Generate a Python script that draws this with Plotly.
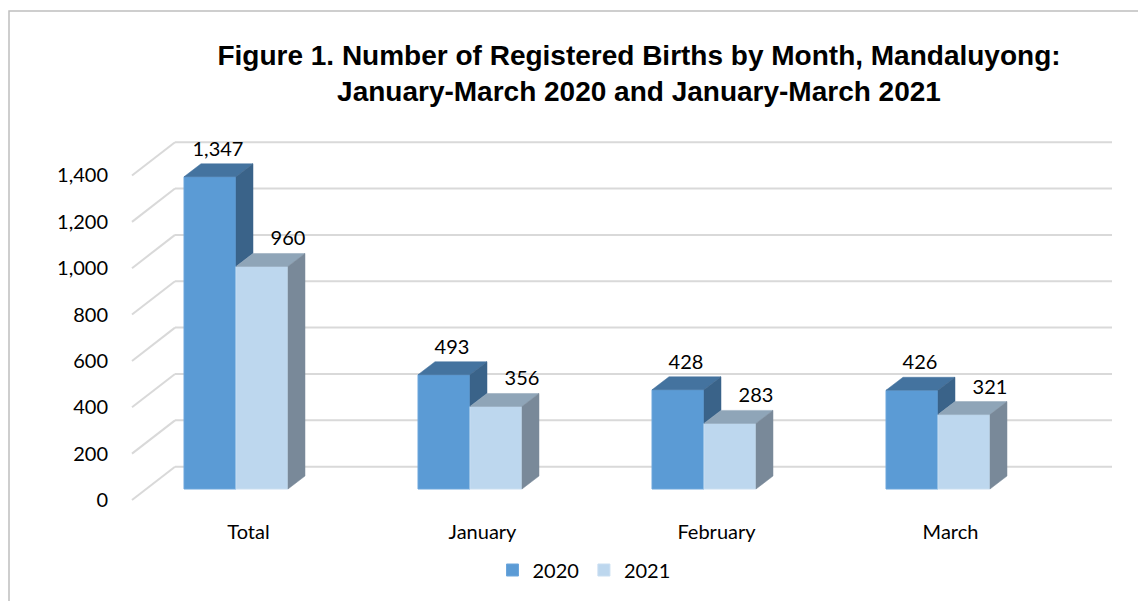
import plotly.graph_objects as go

# ---------------- data ----------------
categories = ["Total", "January", "February", "March"]
values_2020 = [1347, 493, 428, 426]
values_2021 = [960, 356, 283, 321]
series_names = ["2020", "2021"]
y_ticks = [0, 200, 400, 600, 800, 1000, 1200, 1400]

# ---------------- style / geometry ----------------
PAGE_OFF = 8                      # default body margin of the html page
W, H = 1146 - PAGE_OFF, 601 - PAGE_OFF
ML, MR, MT, MB = 120, 8, 120, 85
PX_X = 234.0          # pixels per category
PX_Y = 0.2318         # pixels per unit value
X0_PX = 236.0 - PAGE_OFF   # pixel of category 0 (front face centre)
Y0_PX = 489.0 - PAGE_OFF   # pixel of value 0 on bar front plane

def xd(px):  # pixel offset -> data offset (x)
    return px / PX_X

def yd(px):  # pixel offset -> data offset (y)
    return px / PX_Y

x_range = [(ML - X0_PX) / PX_X, (W - MR - X0_PX) / PX_X]
y_range = [(Y0_PX - (H - MB)) / PX_Y, (Y0_PX - MT) / PX_Y]
PW, PH = W - ML - MR, H - MT - MB

bar_w = xd(52)
depth_dx, depth_dy = xd(17), yd(13)            # bar depth
front_off = yd(-11)                             # front wall relative to bar plane
back_off = yd(22.3)                             # back wall relative to bar plane
wall_front_x = xd(132 - 236)
wall_back_x = xd(175 - 236)
wall_right_x = xd(1112 - 236)

C20 = dict(front="#5B9BD5", top="#44739F", side="#3A6389", edge="#6CA6DC")
C21 = dict(front="#BDD7EE", top="#8FA5B8", side="#798999", edge="#C9DEF1")
GRID = "#D9D9D9"
FONT = "Lato"

fig = go.Figure()

# gridlines (back wall + left wall) as shapes below traces
shapes = []
for v in y_ticks:
    shapes.append(dict(type="line", xref="x", yref="y", layer="below",
                       x0=wall_front_x, y0=v + front_off, x1=wall_back_x, y1=v + back_off,
                       line=dict(color=GRID, width=2)))
    shapes.append(dict(type="line", xref="x", yref="y", layer="below",
                       x0=wall_back_x, y0=v + back_off, x1=wall_right_x, y1=v + back_off,
                       line=dict(color=GRID, width=2)))
# outer chart border
bx0, by0 = 9 - PAGE_OFF, 11 - PAGE_OFF
shapes.append(dict(type="rect", xref="paper", yref="paper",
                   x0=(bx0 - ML) / PW, x1=(W + 20 - ML) / PW,
                   y0=((H - MB) - (H + 20)) / PH, y1=((H - MB) - by0) / PH,
                   line=dict(color="#BFBFBF", width=1.5), layer="below"))

xs = list(range(len(categories)))

# front faces
fig.add_trace(go.Bar(x=xs, y=values_2020, width=bar_w, offset=-bar_w, name=series_names[0],
                     marker=dict(color=C20["front"], line=dict(color=C20["edge"], width=1)),
                     hoverinfo="skip"))
fig.add_trace(go.Bar(x=xs, y=values_2021, width=bar_w, offset=0, name=series_names[1],
                     marker=dict(color=C21["front"], line=dict(color=C21["edge"], width=1)),
                     hoverinfo="skip"))

def poly(xpts, ypts, color):
    fig.add_trace(go.Scatter(x=xpts + [xpts[0]], y=ypts + [ypts[0]], mode="lines",
                             fill="toself", fillcolor=color, line=dict(color=color, width=0.5),
                             showlegend=False, hoverinfo="skip"))

for i, (v20, v21) in enumerate(zip(values_2020, values_2021)):
    # 2020 bar
    a, b = i - bar_w, i
    poly([a, b, b + depth_dx, a + depth_dx], [v20, v20, v20 + depth_dy, v20 + depth_dy], C20["top"])
    lo = min(v21, v20)
    poly([b, b, b + depth_dx, b + depth_dx], [lo, v20, v20 + depth_dy, lo + depth_dy], C20["side"])
    # 2021 bar
    a, b = i, i + bar_w
    poly([a, b, b + depth_dx, a + depth_dx], [v21, v21, v21 + depth_dy, v21 + depth_dy], C21["top"])
    poly([b, b, b + depth_dx, b + depth_dx], [0, v21, v21 + depth_dy, depth_dy], C21["side"])

# data labels
lab_dy = yd(26)
fig.add_trace(go.Scatter(x=[i - bar_w / 2 + xd(8) for i in xs], y=[v + lab_dy for v in values_2020],
                         mode="text", text=[f"{v:,}" for v in values_2020],
                         textfont=dict(family=FONT, size=20, color="#000000"),
                         showlegend=False, hoverinfo="skip", cliponaxis=False))
fig.add_trace(go.Scatter(x=[i + bar_w / 2 + xd(26) for i in xs], y=[v + lab_dy for v in values_2021],
                         mode="text", text=[f"{v:,}" for v in values_2021],
                         textfont=dict(family=FONT, size=20, color="#000000"),
                         showlegend=False, hoverinfo="skip", cliponaxis=False))

fig.update_layout(
    width=W, height=H,
    margin=dict(l=ML, r=MR, t=MT, b=MB, autoexpand=False),
    paper_bgcolor="white", plot_bgcolor="white",
    barmode="overlay",
    shapes=shapes,
    title=dict(text="Figure 1. Number of Registered Births by Month, Mandaluyong:<br>January-March 2020 and January-March 2021",
               x=(639 - PAGE_OFF) / W, xanchor="center", y=1 - 57 / H, yanchor="top",
               font=dict(family="Liberation Sans", size=28, color="#000000", weight="bold")),
    xaxis=dict(range=x_range, tickmode="array",
               tickvals=[i + xd(12.5) for i in xs], ticktext=categories,
               showgrid=False, zeroline=False, showline=False, ticks="",
               tickfont=dict(family=FONT, size=20, color="#000000"), ticklabelstandoff=2),
    yaxis=dict(range=y_range, tickmode="array",
               tickvals=[v + front_off for v in y_ticks], ticktext=[f"{v:,}" for v in y_ticks],
               showgrid=False, zeroline=False, showline=False, ticks="",
               tickfont=dict(family=FONT, size=20, color="#000000"), ticklabelstandoff=19),
    legend=dict(orientation="h", x=(584 - PAGE_OFF - ML) / PW, xanchor="center",
                y=((H - MB) - (570 - PAGE_OFF)) / PH, yanchor="middle",
                font=dict(family=FONT, size=20, color="#000000"), itemwidth=30,
                traceorder="normal"),
    showlegend=True,
)

fig.write_html("out.html")
